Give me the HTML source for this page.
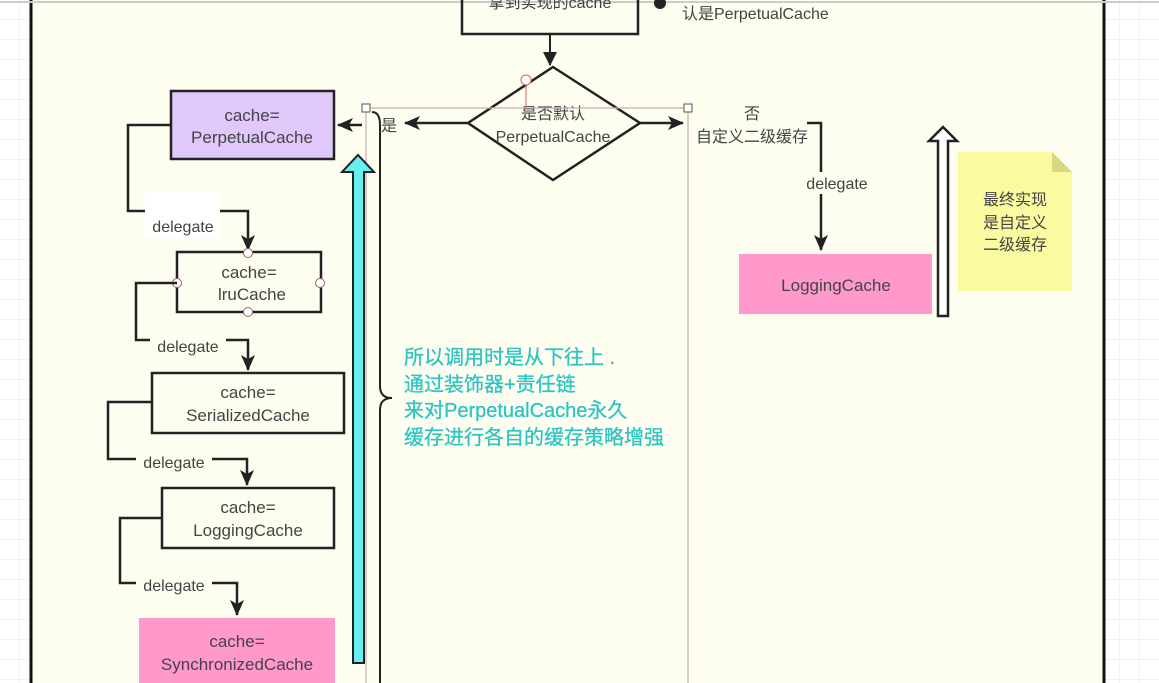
<!DOCTYPE html>
<html><head><meta charset="utf-8"><style>
html,body{margin:0;padding:0;background:#fff;}
svg{display:block;font-family:"Liberation Sans","Noto Sans CJK SC",sans-serif;}
</style></head><body>
<svg width="1159" height="683" viewBox="0 0 1159 683" xmlns="http://www.w3.org/2000/svg">
<defs>
<pattern id="g" width="20" height="20" patternUnits="userSpaceOnUse"><path d="M20 0V20H0" fill="none" stroke="#e6e6e6" stroke-width="1"/></pattern>
<marker id="a" markerWidth="14" markerHeight="16" refX="13" refY="7" orient="auto" markerUnits="userSpaceOnUse"><path d="M0,0L14,7L0,14z" fill="#222"/></marker>
<marker id="b" markerWidth="16" markerHeight="14" refX="15" refY="7" orient="auto" markerUnits="userSpaceOnUse"><path d="M0,0L16,7L0,14L4,7z" fill="#222"/></marker>
</defs>
<rect width="1159" height="683" fill="url(#g)"/>
<rect x="31" y="0" width="1073" height="683" fill="#fdfdf0"/>
<line x1="31" y1="0" x2="31" y2="683" stroke="#111" stroke-width="3"/>
<line x1="1104" y1="0" x2="1104" y2="683" stroke="#111" stroke-width="3"/>
<line x1="0" y1="2" x2="1159" y2="2" stroke="#ccc" stroke-width="2"/>

<rect x="462" y="-5" width="176" height="39" fill="none" stroke="#222" stroke-width="2.5"/>
<text x="550" y="8" font-size="16" fill="#444" text-anchor="middle">拿到实现的cache</text>
<circle cx="660" cy="3" r="6" fill="#222"/>
<text x="682" y="19" font-size="16" fill="#444">认是PerpetualCache</text>
<line x1="550" y1="34" x2="550" y2="65" stroke="#222" stroke-width="2" marker-end="url(#a)"/>

<polygon points="553,67 640,123 553,180 468,123" fill="none" stroke="#222" stroke-width="2.5"/>
<text x="553" y="119" font-size="16" fill="#444" text-anchor="middle">是否默认</text>
<text x="553" y="142" font-size="16" fill="#444" text-anchor="middle">PerpetualCache</text>
<line x1="526" y1="80" x2="526" y2="108" stroke="#c66" stroke-width="1"/>
<circle cx="526" cy="80" r="5" fill="#fff" stroke="#c66"/>

<path d="M366 108H688M366 108V683M688 108V683" fill="none" stroke="#c9b0b0" stroke-width="1.2"/>
<rect x="362" y="104" width="8" height="8" fill="#fff" stroke="#555"/>
<rect x="684" y="104" width="8" height="8" fill="#fff" stroke="#555"/>

<line x1="468" y1="123" x2="405" y2="123" stroke="#222" stroke-width="2.5" marker-end="url(#b)"/>
<text x="381" y="131" font-size="16" fill="#444">是</text>
<line x1="362" y1="125" x2="338" y2="125" stroke="#222" stroke-width="2.5" marker-end="url(#b)"/>
<line x1="640" y1="123" x2="683" y2="123" stroke="#222" stroke-width="2.5" marker-end="url(#b)"/>
<text x="752" y="119" font-size="16" fill="#444" text-anchor="middle">否</text>
<text x="752" y="142" font-size="16" fill="#444" text-anchor="middle">自定义二级缓存</text>

<path d="M807 123H821V250" fill="none" stroke="#222" stroke-width="2.5" marker-end="url(#b)"/>
<rect x="796" y="172" width="80" height="22" fill="#fdfdf0"/>
<text x="837" y="189" font-size="16" fill="#444" text-anchor="middle">delegate</text>
<rect x="739" y="254" width="193" height="60" fill="#ff99cc"/>
<text x="836" y="291" font-size="17" fill="#444" text-anchor="middle">LoggingCache</text>
<polygon points="938,316 948,316 948,141 957,141 943,127 929,141 938,141" fill="#fff" stroke="#222" stroke-width="2.5"/>
<polygon points="958,152 1052,152 1072,172 1072,291 958,291" fill="#fafaa0"/>
<polygon points="1052,152 1072,172 1052,172" fill="#d8d880"/>
<text x="1015" y="205" font-size="16" fill="#444" text-anchor="middle">最终实现</text>
<text x="1015" y="228" font-size="16" fill="#444" text-anchor="middle">是自定义</text>
<text x="1015" y="250" font-size="16" fill="#444" text-anchor="middle">二级缓存</text>

<rect x="171" y="91" width="163" height="68" fill="#e0c8fa" stroke="#222" stroke-width="2.5"/>
<text x="252" y="121" font-size="17" fill="#444" text-anchor="middle">cache=</text>
<text x="252" y="143" font-size="17" fill="#444" text-anchor="middle">PerpetualCache</text>

<path d="M171 125H128V211H248V250" fill="none" stroke="#222" stroke-width="2.5" marker-end="url(#b)"/>
<rect x="145" y="192" width="75" height="45" fill="#fff"/>
<text x="183" y="232" font-size="16" fill="#444" text-anchor="middle">delegate</text>

<rect x="177" y="252" width="144" height="60" fill="none" stroke="#222" stroke-width="2.5"/>
<text x="249" y="278" font-size="17" fill="#444" text-anchor="middle">cache=</text>
<text x="252" y="300" font-size="17" fill="#444" text-anchor="middle">lruCache</text>
<circle cx="248" cy="253" r="4.5" fill="#fff" stroke="#966"/>
<circle cx="248" cy="312" r="4.5" fill="#fff" stroke="#966"/>
<circle cx="177" cy="283" r="4.5" fill="#fff" stroke="#966"/>
<circle cx="320" cy="283" r="4.5" fill="#fff" stroke="#966"/>

<path d="M177 283H136V340H248V370" fill="none" stroke="#222" stroke-width="2.5" marker-end="url(#b)"/>
<rect x="150" y="337" width="76" height="18" fill="#fdfdf0"/>
<text x="188" y="352" font-size="16" fill="#444" text-anchor="middle">delegate</text>

<rect x="152" y="373" width="192" height="60" fill="none" stroke="#222" stroke-width="2.5"/>
<text x="248" y="398" font-size="17" fill="#444" text-anchor="middle">cache=</text>
<text x="248" y="421" font-size="17" fill="#444" text-anchor="middle">SerializedCache</text>

<path d="M152 402H108V459H247V485" fill="none" stroke="#222" stroke-width="2.5" marker-end="url(#b)"/>
<rect x="136" y="452" width="76" height="18" fill="#fdfdf0"/>
<text x="174" y="468" font-size="16" fill="#444" text-anchor="middle">delegate</text>

<rect x="162" y="488" width="172" height="60" fill="none" stroke="#222" stroke-width="2.5"/>
<text x="248" y="513" font-size="17" fill="#444" text-anchor="middle">cache=</text>
<text x="248" y="536" font-size="17" fill="#444" text-anchor="middle">LoggingCache</text>

<path d="M162 518H120V583H237V615" fill="none" stroke="#222" stroke-width="2.5" marker-end="url(#b)"/>
<rect x="136" y="575" width="76" height="18" fill="#fdfdf0"/>
<text x="174" y="591" font-size="16" fill="#444" text-anchor="middle">delegate</text>

<rect x="139" y="618" width="196" height="70" fill="#ff99cc"/>
<text x="237" y="647" font-size="17" fill="#444" text-anchor="middle">cache=</text>
<text x="237" y="670" font-size="17" fill="#444" text-anchor="middle">SynchronizedCache</text>

<polygon points="353,663 364,663 364,172 374,172 358,155 342,172 353,172" fill="#66f0f0" stroke="#222" stroke-width="2"/>

<path d="M372 112Q380 112 380 125V386Q380 398 392 398Q380 398 380 410V683" fill="none" stroke="#222" stroke-width="2"/>

<g font-size="20" fill="#2ec4c4" stroke="#2ec4c4" stroke-width="0.3">
<text x="404" y="364">所以调用时是从下往上 .</text>
<text x="404" y="391">通过装饰器+责任链</text>
<text x="404" y="417">来对PerpetualCache永久</text>
<text x="404" y="444">缓存进行各自的缓存策略增强</text>
</g>
</svg>
</body></html>
